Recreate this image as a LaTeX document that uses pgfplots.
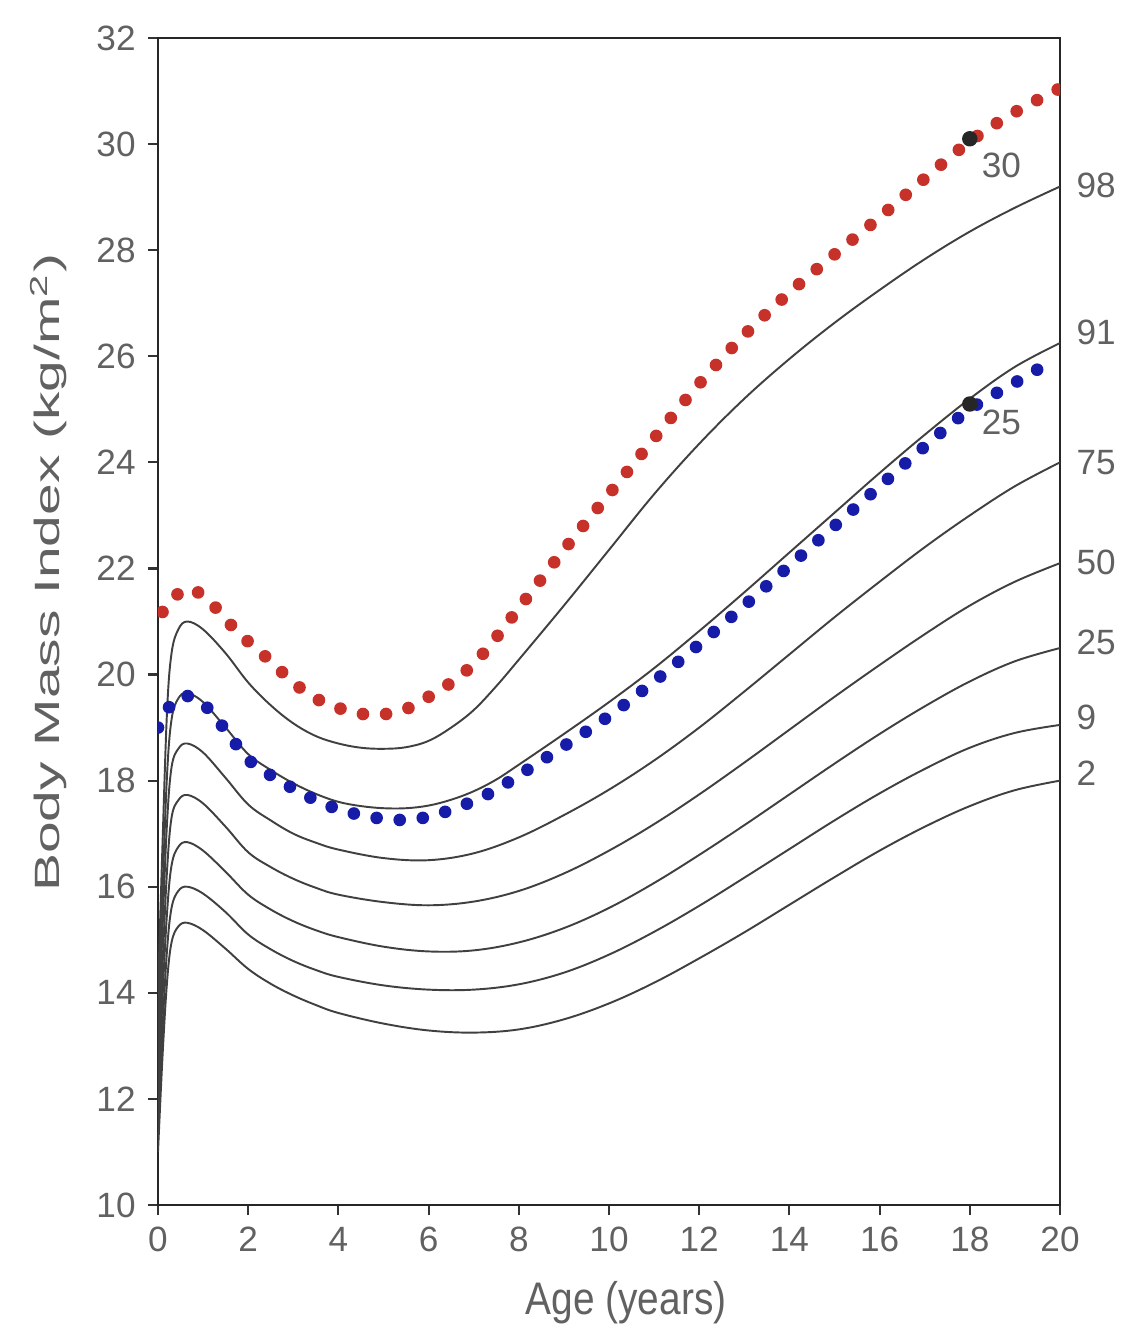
\documentclass[border=0pt]{standalone}
\usepackage{fontspec}
\setmainfont{Liberation Sans}
\usepackage{pgfplots}
\pgfplotsset{compat=1.18}
\usepackage{graphicx}

\definecolor{dotred}{RGB}{198,50,42}
\definecolor{dotblue}{RGB}{22,28,168}
\definecolor{txt}{gray}{0.38}
\tikzset{lab/.style={text=txt, font=\fontsize{10}{12}\selectfont, anchor=west, inner sep=0pt}}

\begin{document}
\begin{tikzpicture}
\begin{axis}[
    at={(0,0)}, anchor=south west,
    scale only axis, width=90.2mm, height=116.7mm,
    xmin=0, xmax=20, ymin=10, ymax=32,
    xtick={0,2,...,20}, ytick={10,12,...,32},
    tick align=outside, tick pos=left,
    major tick length=1mm,
    axis line style={line width=0.8pt, black!85},
    tick style={line width=0.6pt, black!80},
    /pgf/number format/assume math mode=true,
    ticklabel style={font=\fontsize{10}{12}\selectfont, text=txt},
    xlabel={\scalebox{0.85}[1]{\fontsize{13}{15}\selectfont Age (years)}},
    ylabel={\scalebox{1.62}[1]{\fontsize{10}{12}\selectfont Body Mass Index (kg/m\textsuperscript{2})}},
    xlabel style={text=txt, at={(axis description cs:0.519,-0.084)}, anchor=center},
    ylabel style={text=txt, at={(axis description cs:-0.087,0.542)}, anchor=south},
    clip mode=individual,
    every axis plot/.append style={line join=round},
    cent/.style={black!75, line width=0.55pt, smooth, tension=0.6},
    cut/.style={line width=3.6pt, line cap=round, dash pattern=on 0pt off 6.6pt, smooth, tension=0.6},
]
% centile curves: 98, 91, 75, 50, 25, 9, 2
\addplot[cent] coordinates {(0,14.0)(0.1,16.8)(0.2,19.3)(0.3,20.4)(0.45,20.85)(0.65,21.0)(1,20.85)(1.5,20.4)(2,19.85)(2.5,19.42)(3,19.08)(3.5,18.84)(4,18.7)(4.5,18.62)(5,18.6)(5.5,18.63)(6,18.75)(6.5,19.0)(7,19.33)(7.5,19.78)(8,20.28)(9,21.3)(10,22.35)(11,23.4)(12,24.35)(13,25.2)(14,25.95)(15,26.63)(16,27.25)(17,27.83)(18,28.35)(19,28.8)(20,29.2)};
\addplot[cent] coordinates {(0,13.4)(0.1,15.9)(0.2,18.1)(0.3,19.15)(0.45,19.55)(0.65,19.65)(1,19.48)(1.5,19.0)(2,18.5)(2.5,18.2)(3,17.95)(3.5,17.75)(4,17.6)(4.5,17.52)(5,17.48)(5.5,17.48)(6,17.53)(6.5,17.64)(7,17.8)(7.5,18.02)(8,18.3)(9,18.88)(10,19.48)(11,20.12)(12,20.82)(13,21.55)(14,22.3)(15,23.05)(16,23.8)(17,24.52)(18,25.2)(19,25.8)(20,26.25)};
\addplot[cent] coordinates {(0,12.9)(0.1,15.2)(0.2,17.2)(0.3,18.25)(0.45,18.6)(0.65,18.7)(1,18.53)(1.5,18.05)(2,17.55)(2.5,17.25)(3,17.0)(3.5,16.83)(4,16.7)(5,16.54)(6,16.5)(7,16.63)(8,16.93)(9,17.35)(10,17.83)(11,18.38)(12,19.0)(13,19.68)(14,20.38)(15,21.08)(16,21.75)(17,22.4)(18,23.0)(19,23.55)(20,24.0)};
\addplot[cent] coordinates {(0,12.4)(0.1,14.5)(0.2,16.3)(0.3,17.3)(0.45,17.63)(0.65,17.73)(1,17.57)(1.5,17.13)(2,16.65)(2.5,16.37)(3,16.15)(3.5,15.98)(4,15.85)(5,15.71)(6,15.65)(7,15.72)(8,15.92)(9,16.25)(10,16.68)(11,17.18)(12,17.74)(13,18.34)(14,18.96)(15,19.58)(16,20.18)(17,20.76)(18,21.3)(19,21.75)(20,22.1)};
\addplot[cent] coordinates {(0,11.9)(0.1,13.9)(0.2,15.5)(0.3,16.4)(0.45,16.75)(0.65,16.84)(1,16.68)(1.5,16.28)(2,15.85)(2.5,15.57)(3,15.35)(3.5,15.18)(4,15.05)(5,14.87)(6,14.78)(7,14.8)(8,14.95)(9,15.22)(10,15.6)(11,16.07)(12,16.6)(13,17.16)(14,17.74)(15,18.32)(16,18.88)(17,19.4)(18,19.87)(19,20.25)(20,20.5)};
\addplot[cent] coordinates {(0,11.4)(0.1,13.3)(0.2,14.8)(0.3,15.6)(0.45,15.92)(0.65,16.0)(1,15.87)(1.5,15.52)(2,15.1)(2.5,14.82)(3,14.6)(3.5,14.43)(4,14.3)(5,14.14)(6,14.06)(7,14.06)(8,14.16)(9,14.38)(10,14.72)(11,15.15)(12,15.64)(13,16.17)(14,16.71)(15,17.25)(16,17.76)(17,18.22)(18,18.62)(19,18.9)(20,19.05)};
\addplot[cent] coordinates {(0,11.0)(0.1,12.8)(0.2,14.2)(0.3,14.95)(0.45,15.25)(0.65,15.32)(1,15.18)(1.5,14.83)(2,14.45)(2.5,14.17)(3,13.95)(3.5,13.77)(4,13.62)(5,13.42)(6,13.29)(7,13.25)(8,13.31)(9,13.5)(10,13.8)(11,14.19)(12,14.65)(13,15.14)(14,15.66)(15,16.18)(16,16.68)(17,17.13)(18,17.52)(19,17.82)(20,18.0)};
% BMI 30 and 25 cut-off lines
\addplot[cut, dotred] coordinates {(0.1,21.18)(0.35,21.45)(0.7,21.62)(1.15,21.37)(1.6,20.95)(2.05,20.58)(2.5,20.25)(3,19.85)(3.5,19.55)(4,19.37)(4.5,19.26)(5,19.25)(5.5,19.35)(6,19.58)(6.5,19.85)(7,20.2)(7.5,20.7)(8,21.25)(9,22.35)(10,23.4)(11,24.45)(12,25.48)(13,26.4)(14,27.2)(15,27.92)(16,28.62)(17,29.35)(18,30.05)(19,30.6)(20,31.05)};
\addplot[cut, dotblue] coordinates {(0,19.0)(0.3,19.45)(0.6,19.6)(1,19.45)(1.5,18.95)(2,18.4)(2.5,18.1)(3,17.85)(3.5,17.63)(4,17.46)(4.5,17.35)(5,17.28)(5.5,17.26)(6,17.32)(6.5,17.45)(7,17.62)(7.5,17.83)(8,18.1)(9,18.65)(10,19.22)(11,19.87)(12,20.57)(13,21.3)(14,22.05)(15,22.8)(16,23.55)(17,24.3)(18,25.0)(19,25.5)(19.6,25.8)};
% adult cut-off points
\addplot[only marks, mark=*, mark size=2pt, black!85] coordinates {(18,30.1)(18,25.1)};
\node[text=txt, font=\fontsize{10}{12}\selectfont] at (axis cs:18.7,29.6) {30};
\node[text=txt, font=\fontsize{10}{12}\selectfont] at (axis cs:18.7,24.75) {25};
% centile labels
\node[lab] at (axis cs:20.35,29.23) {98};
\node[lab] at (axis cs:20.35,26.45) {91};
\node[lab] at (axis cs:20.35,24.0) {75};
\node[lab] at (axis cs:20.35,22.12) {50};
\node[lab] at (axis cs:20.35,20.6) {25};
\node[lab] at (axis cs:20.35,19.2) {9};
\node[lab] at (axis cs:20.35,18.14) {2};
\end{axis}
\pgfresetboundingbox
\path (-15.8mm,-13.2mm) rectangle (96.6mm,120.5mm);
\end{tikzpicture}
\end{document}
